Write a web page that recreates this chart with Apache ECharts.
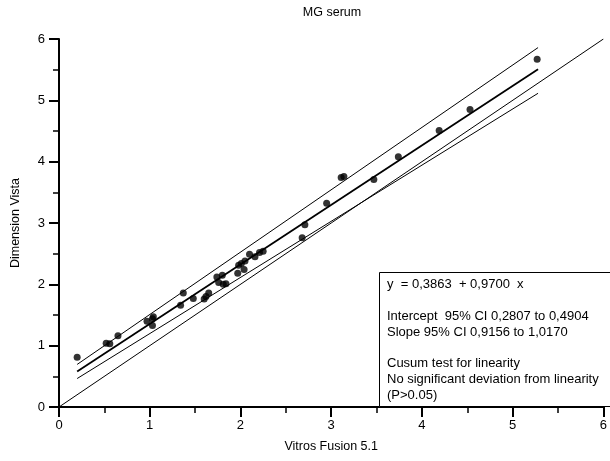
<!DOCTYPE html>
<html>
<head>
<meta charset="utf-8">
<script src="https://cdn.jsdelivr.net/npm/echarts@6/dist/echarts.min.js"></script>
<style>html,body{margin:0;padding:0;background:#fff}#c{width:610px;height:461px}</style>
</head>
<body>
<div id="c"></div>
<script>
// Data
const titleText = 'MG serum';
const xName = 'Vitros Fusion 5.1';
const yName = 'Dimension Vista';
const xTicks = [0, 1, 2, 3, 4, 5, 6];
const yTicks = [0, 1, 2, 3, 4, 5, 6];
const vitros = [0.20,0.52,0.56,0.65,0.97,1.03,1.04,1.03,1.34,1.37,1.48,1.60,1.62,1.65,1.74,1.76,1.80,1.81,1.84,1.97,1.98,2.01,2.04,2.05,2.10,2.16,2.21,2.25,2.68,2.71,2.95,3.11,3.14,3.47,3.74,4.19,4.53,5.27];
const vista  = [0.81,1.04,1.03,1.16,1.40,1.44,1.47,1.33,1.66,1.86,1.77,1.76,1.80,1.86,2.12,2.03,2.15,2.00,2.01,2.18,2.31,2.34,2.24,2.38,2.49,2.45,2.52,2.54,2.76,2.97,3.32,3.74,3.76,3.71,4.08,4.51,4.85,5.67];
const fitX = [0.2, 5.28];
const fitY = [0.580, 5.508];      // y = 0,3863 + 0,9700 x
const upperY = [0.694, 5.860];    // upper CI line
const lowerY = [0.464, 5.115];    // lower CI line
const identityX = [0, 6];
const identityY = [0, 6];
const boxLines = [
  'y  = 0,3863  + 0,9700  x',
  '',
  'Intercept  95% CI 0,2807 to 0,4904',
  'Slope 95% CI 0,9156 to 1,0170',
  '',
  'Cusum test for linearity',
  'No significant deviation from linearity',
  '(P>0.05)'
];

const pts = vitros.map((x, i) => [x, vista[i]]);
const pair = (xs, ys) => xs.map((x, i) => [x, ys[i]]);
const FONT = 'Liberation Sans, Arial, Helvetica, sans-serif';

const chart = echarts.init(document.getElementById('c'), null, {renderer: 'canvas'});
const axisCommon = {
  type: 'value', min: 0, max: 6, interval: 1,
  axisLine: {show: true, onZero: false, lineStyle: {color: '#000', width: 2}},
  axisTick: {show: true, inside: false, length: 10, lineStyle: {color: '#000', width: 2}},
  minorTick: {show: true, splitNumber: 2, length: 6, lineStyle: {color: '#000', width: 1.5}},
  splitLine: {show: false},
  axisLabel: {color: '#000', fontSize: 13, fontFamily: FONT},
  nameTextStyle: {color: '#000', fontSize: 12.5, fontFamily: FONT}
};
chart.setOption({
  animation: false,
  backgroundColor: '#fff',
  grid: {left: 59, top: 39, right: 5, bottom: 54, containLabel: false},
  xAxis: Object.assign({}, axisCommon, {
    name: xName, nameLocation: 'middle', nameGap: 33,
    axisLabel: Object.assign({}, axisCommon.axisLabel, {margin: 12, formatter: v => xTicks.includes(v) ? String(v) : ''})
  }),
  yAxis: Object.assign({}, axisCommon, {
    name: yName, nameLocation: 'middle', nameGap: 37,
    axisLabel: Object.assign({}, axisCommon.axisLabel, {margin: 14, formatter: v => yTicks.includes(v) ? String(v) : ''})
  }),
  series: [
    {type: 'line', data: pair(identityX, identityY), symbol: 'none', lineStyle: {color: '#000', width: 1}, z: 2},
    {type: 'line', data: pair(fitX, upperY), symbol: 'none', lineStyle: {color: '#000', width: 1}, z: 2},
    {type: 'line', data: pair(fitX, lowerY), symbol: 'none', lineStyle: {color: '#000', width: 1}, z: 2},
    {type: 'line', data: pair(fitX, fitY), symbol: 'none', lineStyle: {color: '#000', width: 1.8}, z: 3},
    {type: 'scatter', data: pts, symbol: 'circle', symbolSize: 7, itemStyle: {color: '#000'}, z: 4}
  ],
  graphic: [
    {type: 'text', x: 332, y: 6, style: {text: titleText, fill: '#000', font: '12.5px ' + FONT, textAlign: 'center'}},
    {type: 'rect', shape: {x: 379.5, y: 272.5, width: 240, height: 134}, style: {fill: '#fff', stroke: '#000', lineWidth: 1}, z: 100},
    {type: 'text', x: 387, y: 277, style: {text: boxLines.join('\n'), fill: '#000', font: '13px ' + FONT, lineHeight: 15.8}, z: 101}
  ]
});
</script>
</body>
</html>
